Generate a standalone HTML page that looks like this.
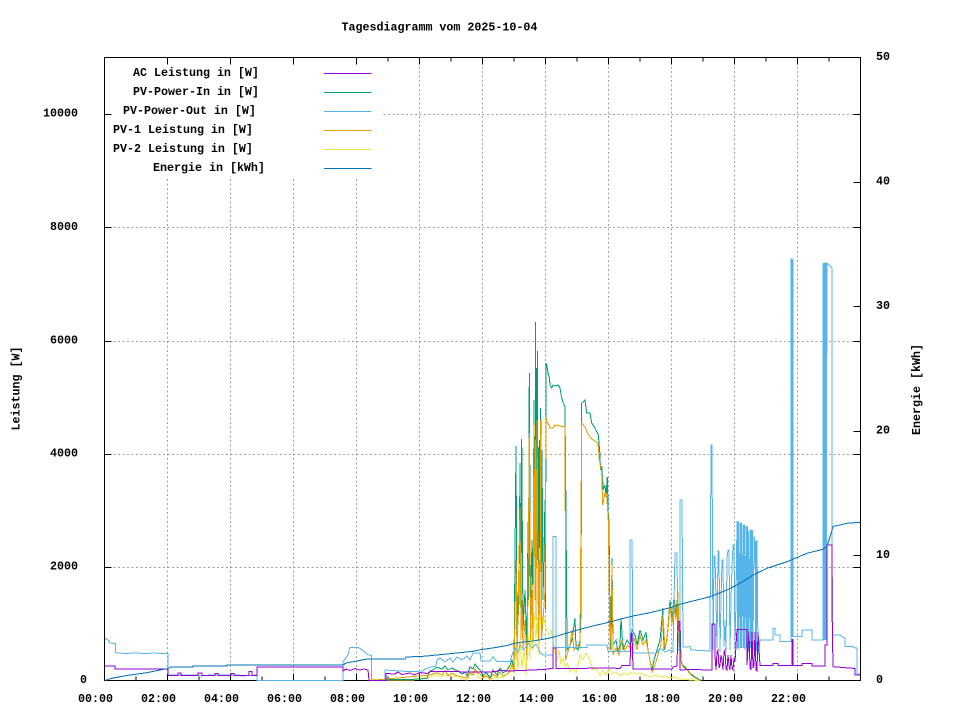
<!DOCTYPE html>
<html>
<head>
<meta charset="utf-8">
<style>
html,body{margin:0;padding:0;background:#fff;}
svg{display:block;}
text{font-family:"Liberation Mono",monospace;font-weight:bold;font-size:11.67px;fill:#000;}
polyline,line,path,rect{shape-rendering:crispEdges;}
</style>
</head>
<body>
<svg width="960" height="720" viewBox="0 0 960 720" xmlns="http://www.w3.org/2000/svg">
<rect x="0" y="0" width="960" height="720" fill="#fff"/>

<!-- grid -->
<g stroke="#a0a0a0" stroke-width="1" stroke-dasharray="2,2.5" fill="none">
  <line x1="167.5" y1="57.5" x2="167.5" y2="680.5"/>
  <line x1="230.5" y1="57.5" x2="230.5" y2="680.5"/>
  <line x1="293.5" y1="57.5" x2="293.5" y2="680.5"/>
  <line x1="356.5" y1="57.5" x2="356.5" y2="680.5"/>
  <line x1="419.5" y1="57.5" x2="419.5" y2="680.5"/>
  <line x1="482.5" y1="57.5" x2="482.5" y2="680.5"/>
  <line x1="545.5" y1="57.5" x2="545.5" y2="680.5"/>
  <line x1="608.5" y1="57.5" x2="608.5" y2="680.5"/>
  <line x1="671.5" y1="57.5" x2="671.5" y2="680.5"/>
  <line x1="734.5" y1="57.5" x2="734.5" y2="680.5"/>
  <line x1="797.5" y1="57.5" x2="797.5" y2="680.5"/>
  <line x1="104.5" y1="567.5" x2="860.5" y2="567.5"/>
  <line x1="104.5" y1="454.5" x2="860.5" y2="454.5"/>
  <line x1="104.5" y1="341.5" x2="860.5" y2="341.5"/>
  <line x1="104.5" y1="227.5" x2="860.5" y2="227.5"/>
  <line x1="104.5" y1="114.5" x2="860.5" y2="114.5"/>
</g>

<!-- legend background -->
<rect x="105" y="58" width="278" height="121" fill="#fff"/>

<!-- border and ticks -->
<g stroke="#000" stroke-width="1" fill="none">
  <rect x="104.5" y="57.5" width="756" height="623"/>
  <path d="M167.5 680.5v-7M230.5 680.5v-7M293.5 680.5v-7M356.5 680.5v-7M419.5 680.5v-7M482.5 680.5v-7M545.5 680.5v-7M608.5 680.5v-7M671.5 680.5v-7M734.5 680.5v-7M797.5 680.5v-7"/>
  <path d="M136 680.5v-4M199 680.5v-4M262 680.5v-4M325 680.5v-4M388 680.5v-4M451 680.5v-4M514 680.5v-4M577 680.5v-4M640 680.5v-4M703 680.5v-4M766 680.5v-4M829 680.5v-4"/>
  <path d="M167.5 57.5v7M230.5 57.5v7M293.5 57.5v7M356.5 57.5v7M419.5 57.5v7M482.5 57.5v7M545.5 57.5v7M608.5 57.5v7M671.5 57.5v7M734.5 57.5v7M797.5 57.5v7"/>
  <path d="M388 57.5v4M451 57.5v4M514 57.5v4M577 57.5v4M640 57.5v4M703 57.5v4M766 57.5v4M829 57.5v4"/>
  <path d="M104.5 567.5h7M104.5 454.5h7M104.5 341.5h7M104.5 227.5h7M104.5 114.5h7"/>
  <path d="M860.5 567.5h-7M860.5 454.5h-7M860.5 341.5h-7M860.5 227.5h-7M860.5 114.5h-7"/>
  <path d="M860.5 555.5h-7M860.5 431.5h-7M860.5 306.5h-7M860.5 182.5h-7"/>
</g>

<!-- data series -->
<g fill="none" stroke-width="1" stroke-linejoin="miter">
<!-- PV-2 yellow -->
<polyline stroke="#f0e442" points="370,680.5 372,679 378,680 387,680 413,680 430,677 437,675 442,677 447,673 452,677 458,676 462,679 467,680 470,675 475,671 478,677 481,679 486,675 490,680 495,677 500,678 505,676 510,672 512,660 514,675 516,645 518,670 520,640 522,668 524,650 526,675 528,633 530,660 531,620 533,650 534,613 536,640 537,618 539,655 540,615 542,635 543,612 545,625 547,630 549,635 551,630 553,640 555,653 557,660 559,650 561,665 563,658 565,667 567,663 570,672 573,668 576,673 578,665 580,655 583,660 586,653 588,657 590,660 593,670 596,668 600,676 603,670 606,675 609,668 612,674 616,672 620,676 624,673 628,675 632,672 636,674 640,673 645,675 650,677 655,675 660,677 665,676 670,678 675,677 680,679 685,679 690,680 700,680.5"/>
<!-- PV-Power-In green -->
<polyline stroke="#009e73" points="370,680.5 386,680.5 387,679.3 413,679.3 427,678.5 430,671 433,670 437,667.3 442,669 445,666 448,670 452,668 455,670 458,671 462,674 465,672 467,676 470,667 473,669 475,664 478,668 480,670 483,676 486,672 490,678 493,670 497,675 500,668 503,673 507,670 510,665 512,660 514,668 516,446 517,640 519,600 520,463 521,620 521.7,439 523,630 525,590 527,650 528,522 528.7,600 529.3,373 530.5,615 532,540 533,600 534,400 535,560 535.5,322 536,520 536.7,368 537,560 537.3,351 538.5,600 539.3,440 540,560 540.7,408 541.5,580 542,450 543,600 545,500 545.5,610 546,363 547,366 548,373 549.3,377 550,385 551.7,388 553,385 555,386 558,385 560,388 561.7,398 563.3,403 565,407 566,517 567,650 570,645 572,640 575,618 576,648 578,650 580,640 581,612 581.7,403 585,400 586.7,413 588,413 590,413 591.7,423 595,428 598.3,435 600,455 600.5,470 601.7,466 603.3,490 605,485 606,497 607.3,477 608.3,515 609,520 610,620 611,650 612,558 613,645 616,640 618,652 620,645 621,618 623,650 627,640 630,645 632,630 635,635 637,645 640,630 643,640 646,632 648,650 650,660 652,670 654,660 657,650 660,640 663,608 664,650 667,640 670,600 672,620 674,597 676,615 677,600 678,640 680,620 681,660 682,665 685,667 690,673 695,677 700,680 702,680.5"/>
<!-- PV-1 orange -->
<polyline stroke="#e69f00" points="370,680.5 430,675 437,672.7 442,675 445,670 448,676 452,673 455,675 458,676 462,677 467,678 470,673 473,675 475,669 478,673 480,674 483,678 486,676 490,679 493,674 497,677 500,672 503,676 507,674 510,670 512,665 514,672 516,560 517,660 520,507 521,640 522,600 523,650 525,620 527,660 528,590 529.3,433 530.5,640 532,590 533,640 534,425 535,600 535.5,440 536,620 537,420 538.5,640 539.3,560 540,620 540.7,420 541.5,640 543,620 545,590 546,417 547,422 549,425 550,428 553,428 555,425 560,426 565,427 565.7,660 567,655 570,645 572,630 574,650 577,645 580,648 581.7,423 585,427 587,432 590,437 593,440 598,443 599.3,460 601.7,473 602.7,505 605,493 606.7,495 608.3,520 610,650 612,565 613,655 616,648 619,655 622,640 625,650 628,645 631,650 634,638 637,650 640,636 643,645 646,640 649,655 652,672 655,665 658,655 661,645 663,615 665,650 668,630 670,605 672,625 674,602 676,620 678,592 679,640 681,660 683,667 687,670 692,676 697,679 700,680.5"/>
<!-- PV-Power-Out light blue -->
<polyline stroke="#56b4e9" points="105,638.3 108,640 110,643 113,643.3 115.7,643.3 115.7,652.7 125,653.5 135,653 145,653.5 155,653 165,653.7 168,653.3 168,675 200,675 200,676 210,675 240,675 241,676 257,675 257,680.5 343,680.5 343,661.7 348,655 350,647.3 358,647.3 362,650 366,653.3 368,655 371.7,655 371.7,680.5 385,680.5 385,670 400,671 410,671.7 423,671 425,669 430,667.3 436,666 437,660 440,658 445,662 450,658 453,662 457,657 462,660 467,656 470,660 473,653 480,653 481,661 490,661 493,656.7 497,661.7 510,661.7 512,655 515,648 518,652 520,645 524,650 528,643 532,648 536,644 540,652 543,655 553,655 553,536.7 556,536.7 556,647.5 587,647.5 587,645 607,645 608,651.7 630,651.7 630,540 632,540 633,653 657,653 660,648 665,652 670,650 673,652 675,553 677,553 678,650 680,650 680,500 682,500 683,647 690,646.7 691,650 710,651 711,445 712,445 713,650 714,556 715,556 716,600 717,648 718,550 719,552 720,652 721,600 722,560 723,560 724,647 725,620 726,650 727,559 728,550 729,550 730,650 731,600 732,567 733,545 734,545 735,648 736,600 737,521.7 738,521.7 739,650 740,523 741,523 742,648 743,525 744,525 745,650 746,526.7 747,526.7 748,650 748.5,531.7 749,650 750,530 751,530 751.5,650 752,533 753,650 754,536 755,541.7 756,650 756.5,541.7 757,540 758,655 760,640 773,640 773,628.3 775,628.3 775,635 780,635 780,641.7 791,641.7 791,259 793,261 793,636.7 802,636.7 802,630 812,630 812,640 823,640 823,264 824,263.3 824.5,640 825,263.3 826,263.3 826,640 827,263 829,265 831,267 832,268 832.3,635 840,635 842,636.7 845,638 845,646.7 853,646.7 855,648 857,648 857,674 860,674"/>
</g>
<!-- dense light-blue blocks -->
<g fill="#56b4e9">
  <rect x="737" y="522" width="2" height="126"/>
  <rect x="740" y="523" width="2" height="125"/>
  <rect x="743" y="525" width="2" height="123"/>
  <rect x="746" y="527" width="2" height="121"/>
  <rect x="750" y="530" width="3" height="118"/>
  <rect x="755" y="541" width="2" height="110"/>
  <rect x="791" y="259" width="2" height="378"/>
  <rect x="823" y="264" width="4" height="376"/>
</g>
<g fill="none" stroke-width="1" stroke-linejoin="miter">
<!-- AC purple -->
<polyline stroke="#9400d3" points="105,666 115,666 115,669 168,669 168,675.5 178,675.5 178,673 181,673 181,675.5 198,675.5 198,673 202,673 202,675.5 215,675.5 215,673.3 218,673.3 218,675.5 231,675.5 231,673.5 234,673.5 234,675.5 249,675.5 249,671.5 252,671.5 252,675.5 257,675.5 257,667 343,667 343,671 346,669 350,670.5 355,668.5 360,670 364,669 368,670 369,680.5 386,680.5 386,673.5 395,674 398,672 402,674.5 410,673 414,675 420,672.5 427,673.5 430,671.7 450,671.5 470,672 497,671.7 498,670.5 513,671 515,670.7 533,670 545,669.3 553,668.3 553,648 556,648 556,668.3 587,668.3 590,668 620,668.3 622,665.5 630,665.5 631,634 632,634 633,669 672,669 673,667 677,666 678,621.7 680,621.7 680,670 690,669.5 712,670 712,624 715,624 715,655 716,670 717,652 718,650 719,668 720,665 721,655 722,660 723,670 724,652 725,650 726,669 727,670 728,655 729,665 730,670 731,655 732,668 733,670 734,658 735,662 737,629.3 747,629.3 747,665 749,631.7 750,668 751,670 752,632 753,668 754,665 755,632 756,670 757,671 758,632 760,665.7 773,665.7 773,663.3 778,663.3 778,665.7 792,665.7 792,639.3 793,639.3 793,665.7 802,665.7 802,663.3 812,663.3 812,666 825,666 825,645 827,645 827,545 832,545 832,606.7 833,666.7 853,668.3 855,668.3 855,675 860,675"/>
<!-- Energie dark blue -->
<polyline stroke="#0072b2" points="105,680.5 110,678.7 120,676.7 130,675 147,672.7 160,670 168,668.5 171,667 193,667 193,666 227,666 227,665 343,665 346,663 357,661 367,659 405,659 406,657 423,656.3 440,654.7 457,653 473,651.3 480,649.8 497,647.3 508,645.3 513,643.7 523,642 533,641 543,639.3 553,637.3 567,633 580,629.3 593,626 607,622.7 620,619.3 633,616 647,613.3 660,610.3 673,607 680,604.3 693,601 710,596.7 727,590 740,583.3 753,575 767,568.3 787,561.7 807,553.3 823,549.3 827,546 830,537 833,526.5 840,525 847,523.3 860,522.3"/>
</g>

<!-- legend -->
<g stroke-width="1">
  <line x1="324" y1="73.5" x2="371.5" y2="73.5" stroke="#9400d3"/>
  <line x1="324" y1="92.5" x2="371.5" y2="92.5" stroke="#009e73"/>
  <line x1="324" y1="111.5" x2="371.5" y2="111.5" stroke="#56b4e9"/>
  <line x1="324" y1="130.5" x2="371.5" y2="130.5" stroke="#e69f00"/>
  <line x1="324" y1="149.5" x2="371.5" y2="149.5" stroke="#f0e442"/>
  <line x1="324" y1="168.5" x2="371.5" y2="168.5" stroke="#0072b2"/>
</g>
<text x="133" y="76">AC Leistung in [W]</text>
<text x="133" y="95">PV-Power-In in [W]</text>
<text x="123" y="114">PV-Power-Out in [W]</text>
<text x="113" y="133">PV-1 Leistung in [W]</text>
<text x="113" y="152">PV-2 Leistung in [W]</text>
<text x="153" y="171">Energie in [kWh]</text>

<!-- title -->
<text x="341.5" y="30.5">Tagesdiagramm vom 2025-10-04</text>

<!-- y1 labels -->
<text x="78" y="116.5" text-anchor="end">10000</text>
<text x="78" y="230" text-anchor="end">8000</text>
<text x="78" y="343.5" text-anchor="end">6000</text>
<text x="78" y="456.5" text-anchor="end">4000</text>
<text x="78" y="569.5" text-anchor="end">2000</text>
<text x="80" y="683">0</text>

<!-- y2 labels -->
<text x="876" y="683">0</text>
<text x="876" y="558">10</text>
<text x="876" y="433.5">20</text>
<text x="876" y="309">30</text>
<text x="876" y="184.5">40</text>
<text x="876" y="60">50</text>

<!-- x labels -->
<text x="78" y="702">00:00</text>
<text x="141" y="702">02:00</text>
<text x="204" y="702">04:00</text>
<text x="267" y="702">06:00</text>
<text x="330" y="702">08:00</text>
<text x="393" y="702">10:00</text>
<text x="456" y="702">12:00</text>
<text x="519" y="702">14:00</text>
<text x="582" y="702">16:00</text>
<text x="645" y="702">18:00</text>
<text x="708" y="702">20:00</text>
<text x="771" y="702">22:00</text>

<!-- axis titles -->
<text transform="translate(19.5,388.5) rotate(-90)" text-anchor="middle">Leistung [W]</text>
<text transform="translate(920,389.5) rotate(-90)" text-anchor="middle">Energie [kWh]</text>
</svg>
</body>
</html>
